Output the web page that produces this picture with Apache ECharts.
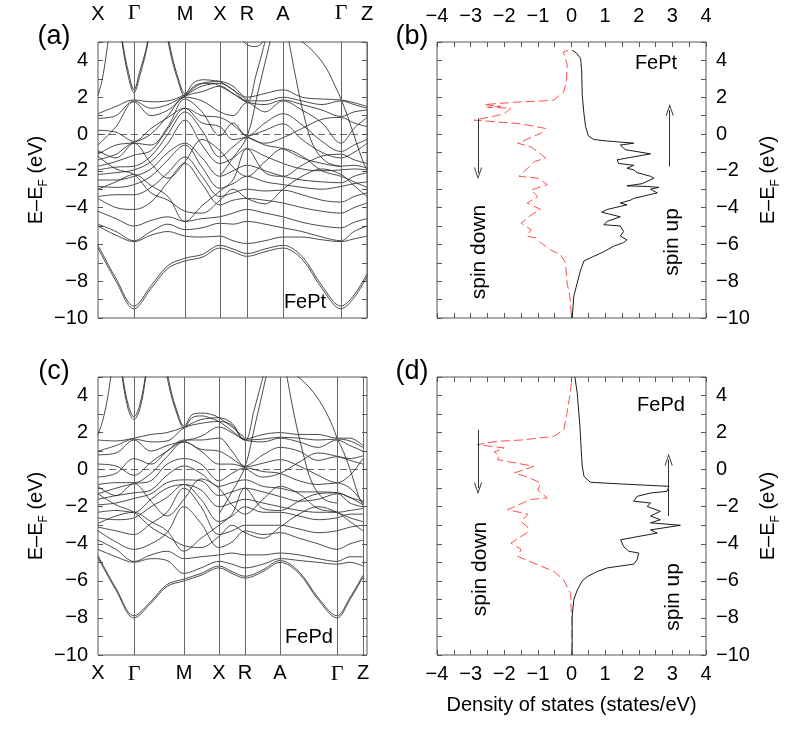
<!DOCTYPE html>
<html>
<head>
<meta charset="utf-8">
<script src="https://cdn.jsdelivr.net/npm/echarts@6/dist/echarts.min.js"></script>
<style>
  html, body { margin: 0; padding: 0; background: #fff; }
  #chart { width: 797px; height: 729px; }
</style>
</head>
<body>
<div id="chart"></div>
<script>
// high-symmetry points along the k-path
var kLabels = ['X', 'Γ', 'M', 'X', 'R', 'A', 'Γ', 'Z'];
var kTicksPt = [0, 36, 87, 122, 149, 185, 243, 269];
var kTicksPd = [0, 36, 86, 121, 147, 182, 239, 265];
// k sample points for the d-band manifold
var kGridPt = [0, 18, 36, 53, 70, 87, 104, 122, 135, 149, 167, 185, 204, 224, 243, 256, 269];
var kGridPd = [0, 18, 36, 53, 69, 86, 103, 121, 134, 147, 165, 182, 201, 220, 239, 252, 265];

// FePt bands, energies (eV) on kGridPt
var bandsPt = [
  [-6.2, -8.0, -9.5, -8.4, -7.3, -6.9, -6.7, -6.2, -6.4, -6.65, -6.4, -6.2, -6.8, -8.4, -9.5, -8.9, -7.75],
  [-6.05, -7.85, -9.35, -8.25, -7.15, -6.75, -6.55, -6.05, -6.25, -6.5, -6.25, -6.05, -6.65, -8.25, -9.35, -8.75, -7.6],
  [-5.0, -5.5, -5.85, -5.5, -5.3, -5.55, -5.6, -5.55, -5.8, -5.95, -5.8, -5.6, -5.6, -5.75, -5.85, -5.7, -5.55],
  [-4.9, -5.3, -5.8, -5.3, -4.9, -5.2, -5.1, -4.85, -4.9, -4.75, -4.9, -5.1, -5.3, -5.6, -5.8, -5.3, -5.0],
  [-4.2, -4.6, -5.0, -4.7, -4.5, -4.75, -4.6, -4.5, -4.3, -4.1, -4.3, -4.5, -4.8, -5.0, -5.1, -4.8, -4.6],
  [-3.5, -4.0, -4.1, -3.7, -2.6, -1.6, -2.7, -3.85, -3.6, -3.5, -3.6, -3.75, -4.0, -4.2, -4.3, -4.0, -3.75],
  [-3.4, -3.3, -3.3, -2.9, -2.1, -1.25, -2.3, -3.4, -3.2, -3.0, -3.1, -3.05, -3.3, -3.6, -3.7, -3.4, -3.2],
  [-2.85, -2.9, -2.75, -2.3, -1.4, -0.6, -1.8, -2.95, -2.7, -2.3, -2.6, -2.75, -2.9, -3.0, -2.85, -2.7, -2.6],
  [-2.5, -2.5, -2.3, -1.9, -1.0, -0.5, -1.3, -2.3, -2.0, -1.7, -2.0, -2.3, -2.5, -2.6, -2.65, -2.3, -2.1],
  [-2.2, -2.1, -1.95, -1.5, -0.5, 0.75, -0.6, -1.6, -1.3, -0.8, -1.2, -1.6, -1.9, -2.0, -1.95, -1.9, -1.95],
  [-1.95, -1.8, -1.75, -1.2, 0.0, 1.2, 0.2, -1.25, -0.7, -0.2, -0.6, -0.8, -1.3, -1.6, -1.75, -1.7, -1.85],
  [-1.75, -1.5, -1.15, -0.9, 0.3, 1.4, 0.6, 0.4, -0.3, -0.15, 0.2, 0.55, -0.3, -1.0, -1.3, -1.0, -0.5],
  [-1.4, -1.1, -0.5, -0.6, 0.4, 1.9, 1.2, -0.1, 0.6, -0.1, 0.6, 1.1, 0.5, -0.4, -0.95, -0.6, -0.3],
  [-1.1, -0.6, -0.45, 0.0, 1.0, 2.0, 1.8, 1.2, 1.0, 1.7, 1.2, 1.8, 1.3, 0.6, -0.5, 0.3, 0.9],
  [-0.6, 0.4, 1.75, 1.0, 1.3, 2.05, 2.3, 2.6, 2.2, 1.75, 1.6, 1.85, 1.6, 1.3, 0.95, 1.2, 1.3],
  [0.85, 1.0, 1.8, 1.4, 1.6, 2.1, 2.6, 2.75, 2.4, 1.8, 1.8, 2.0, 1.8, 1.6, 1.8, 1.6, 1.4],
  [1.1, 1.5, 1.85, 1.75, 1.8, 2.15, 2.75, 2.85, 2.6, 2.0, 2.2, 2.4, 2.0, 1.9, 1.85, 1.7, 1.5],
  [-0.9, -1.3, -0.5, -1.6, -2.4, -1.5, -0.3, -0.9, -1.8, -2.3, -1.5, -0.8, -1.2, -2.0, -2.3, -2.6, -2.9],
  [-3.0, -2.6, -2.2, -2.8, -3.4, -4.75, -3.9, -3.1, -2.5, -0.8, -2.1, -2.3, -1.7, -1.2, -1.1, -1.4, -1.6],
  [-1.2, -1.9, -2.2, -3.2, -3.6, -4.2, -4.3, -3.6, -3.0, -3.5, -3.8, -3.0, -2.3, -1.9, -2.2, -2.8, -3.4],
  [0.2, 0.1, -0.4, 0.3, 0.9, 1.4, 1.0, 0.9, 0.5, -0.15, -0.5, -0.2, 0.3, 0.8, 0.9, 0.6, 0.4]
];
// FePt bands that run off the window, [k, E] points
var extraPt = [
  [[14, 9], [24, 5.0], [30, 3.2], [36, 2.25], [42, 3.2], [50, 5.0], [58, 8.5]],
  [[14.5, 9], [24.5, 5.0], [30.5, 3.35], [36, 2.4], [41.5, 3.35], [49.5, 5.0], [57.5, 8.5]],
  [[0, 2.1], [4, 2.9], [8, 4.2], [11, 5.5]],
  [[64, 7], [72, 4.5], [80, 2.9], [87, 2.05], [95, 2.55], [104, 2.75], [115, 2.75], [122, 2.6], [135, 2.2], [149, 1.75], [158, 3.2], [165, 4.6], [172, 6]],
  [[65, 7], [73, 4.5], [81, 2.9], [87, 2.2], [96, 2.8], [106, 2.95], [116, 2.9], [122, 2.85], [135, 2.4], [149, 1.85]],
  [[122, -2.3], [135, -1.3], [149, -0.15], [160, 2.3], [172, 5.0], [178, 6.5]],
  [[140, 5.4], [149, 4.85], [158, 4.75], [168, 5.2]],
  [[190, 5.3], [198, 3.0], [206, 1.0], [215, -0.6], [228, -1.5], [243, -1.77]],
  [[200, 5.2], [215, 4.5], [228, 3.6], [238, 2.5], [243, 1.9], [250, 0.9], [258, -0.4], [265, -1.5], [269, -1.95]]
];

// FePd bands, energies (eV) on kGridPd
var bandsPd = [
  [-4.75, -6.5, -8.0, -7.2, -6.3, -6.0, -5.7, -5.3, -5.6, -5.85, -5.5, -5.0, -5.6, -7.0, -8.0, -7.0, -5.8],
  [-4.65, -6.4, -7.88, -7.1, -6.2, -5.9, -5.6, -5.2, -5.5, -5.75, -5.4, -4.9, -5.5, -6.9, -7.88, -6.9, -5.7],
  [-4.3, -4.7, -5.0, -4.8, -4.9, -5.6, -5.3, -4.95, -5.1, -5.3, -5.1, -4.8, -4.9, -5.0, -5.1, -5.0, -5.2],
  [-3.8, -4.3, -4.95, -4.6, -4.4, -4.8, -4.7, -4.6, -4.5, -4.6, -4.6, -4.5, -4.6, -4.8, -4.95, -4.7, -4.7],
  [-3.3, -3.9, -4.3, -4.0, -3.4, -2.0, -2.9, -4.2, -3.9, -3.3, -3.5, -3.4, -3.7, -4.0, -4.3, -4.0, -3.8],
  [-3.1, -3.3, -3.5, -2.9, -2.3, -1.0, -2.0, -3.5, -3.3, -3.0, -3.0, -3.0, -3.2, -3.4, -3.3, -3.1, -3.0],
  [-2.6, -2.7, -2.6, -2.0, -1.5, -0.8, -1.6, -2.8, -2.5, -2.0, -2.3, -2.3, -2.5, -2.7, -2.6, -2.4, -2.4],
  [-2.3, -2.2, -2.3, -1.6, -1.0, -0.8, -1.1, -2.0, -1.8, -1.6, -1.8, -2.0, -2.2, -2.3, -2.3, -2.2, -2.1],
  [-1.9, -1.8, -1.55, -1.3, -0.7, -0.55, -0.6, -1.4, -1.2, -1.0, -1.2, -1.45, -1.7, -1.6, -1.3, -1.8, -2.0],
  [-1.6, -1.4, -1.25, -1.1, -0.3, 0.2, -0.2, -0.9, -0.7, -0.55, -0.9, -1.0, -1.2, -1.2, -1.25, -1.5, -1.9],
  [-1.3, -1.0, -0.75, -0.6, 0.3, 0.6, 0.3, -0.6, -0.2, 0.1, -0.1, -0.2, -0.6, -0.8, -0.72, -1.0, -1.8],
  [-0.8, -0.7, -0.7, -0.2, 0.7, 1.5, 1.0, 0.3, 0.3, 0.15, 0.35, 0.54, 0.2, -0.3, -0.7, -0.3, 0.6],
  [-0.4, -0.2, 0.6, 0.3, 1.0, 1.6, 1.6, 1.7, 1.0, 0.2, 0.8, 1.2, 1.0, 0.5, 0.7, 0.6, 0.75],
  [0.8, 0.9, 1.6, 1.0, 1.3, 1.55, 1.8, 2.3, 2.0, 1.6, 1.5, 1.7, 1.5, 1.2, 1.6, 1.3, 1.0],
  [1.0, 1.3, 1.65, 1.5, 1.55, 2.25, 2.5, 2.6, 2.4, 1.6, 1.65, 1.75, 1.7, 1.6, 1.65, 1.55, 1.2],
  [1.6, 1.55, 1.7, 1.9, 2.0, 2.3, 2.7, 2.8, 2.5, 1.65, 1.9, 2.0, 1.9, 1.9, 1.7, 1.7, 1.3],
  [-0.9, -1.4, -0.75, -1.7, -2.5, -1.6, -0.5, -1.0, -1.9, -2.4, -1.6, -0.9, -1.3, -2.1, -2.3, -2.6, -2.8],
  [-2.9, -2.5, -2.3, -2.8, -3.3, -4.4, -3.7, -3.0, -2.4, -1.0, -2.1, -2.2, -1.7, -1.3, -1.25, -1.5, -1.7],
  [-1.3, -1.9, -2.3, -3.1, -3.6, -4.1, -4.2, -3.6, -3.0, -3.4, -3.7, -3.1, -2.4, -2.0, -2.3, -2.8, -3.3],
  [0.3, 0.2, -0.3, 0.4, 1.0, 1.5, 1.1, 1.0, 0.6, 0.1, -0.4, -0.2, 0.4, 0.9, 0.72, 0.5, 0.3]
];
var extraPd = [
  [[15, 9], [24, 5.1], [30, 3.3], [36, 2.7], [42, 3.3], [48, 5.1], [56, 8.5]],
  [[15.5, 9], [24.5, 5.1], [30.5, 3.45], [36, 2.85], [41.5, 3.45], [47.5, 5.1], [55.5, 8.5]],
  [[0, 1.9], [5, 2.7], [10, 4.0], [14, 5.5]],
  [[63, 7], [71, 4.5], [79, 3.0], [86, 2.25], [94, 2.8], [104, 2.9], [114, 2.75], [121, 2.6], [134, 2.1], [147, 1.6], [156, 3.2], [163, 4.6], [170, 6]],
  [[64, 7], [72, 4.5], [80, 3.0], [86, 2.35], [95, 3.0], [105, 3.05], [115, 2.95], [121, 2.8], [134, 2.3], [147, 1.7]],
  [[121, -2.4], [134, -1.2], [147, 0.15], [157, 2.4], [168, 5.0], [174, 6.5]],
  [[188, 5.3], [196, 3.0], [205, 0.9], [214, -0.7], [226, -1.6], [239, -1.8]],
  [[196, 5.2], [212, 4.4], [225, 3.4], [235, 2.3], [239, 1.7], [246, 0.9], [254, -0.3], [261, -1.5], [265, -1.9]]
];

// density of states, [states/eV, E - EF]
var dosPtUp = [[0.02, 4.55], [0.15, 4.4], [0.27, 4.1], [0.3, 3.5], [0.32, 2.1], [0.37, 1.1], [0.42, 0.4], [0.5, -0.1], [0.66, -0.3], [1.06, -0.38], [1.85, -0.5], [1.45, -0.6], [1.6, -0.85], [2.35, -1.08], [1.36, -1.4], [1.4, -1.6], [1.85, -1.7], [1.65, -1.86], [1.85, -1.95], [1.95, -2.1], [2.35, -2.3], [2.45, -2.4], [2.1, -2.7], [1.65, -2.82], [2.25, -2.85], [2.6, -2.9], [2.35, -3.0], [2.55, -3.2], [1.85, -3.5], [1.75, -3.6], [1.45, -3.75], [1.65, -3.85], [1.06, -4.1], [0.9, -4.25], [1.45, -4.5], [1.06, -4.75], [0.96, -4.93], [1.45, -5.0], [1.55, -5.3], [1.45, -5.55], [1.65, -5.75], [1.55, -5.9], [1.25, -6.1], [0.96, -6.4], [0.66, -6.65], [0.37, -6.9], [0.27, -7.4], [0.17, -8.1], [0.07, -8.8], [0.02, -10]];
var dosPtDown = [[-0.1, 4.55], [-0.25, 4.45], [-0.2, 4.2], [-0.13, 3.8], [-0.15, 2.9], [-0.23, 2.3], [-0.52, 1.85], [-0.82, 1.8], [-1.5, 1.75], [-2.6, 1.6], [-2.1, 1.5], [-2.5, 1.45], [-1.8, 1.4], [-2.0, 1.1], [-2.35, 0.95], [-2.9, 0.75], [-2.5, 0.7], [-1.5, 0.55], [-0.77, 0.3], [-0.9, 0.05], [-1.6, -0.5], [-1.2, -0.7], [-0.77, -1.3], [-1.1, -1.5], [-1.56, -2.3], [-1.0, -2.4], [-0.72, -2.75], [-1.2, -3.05], [-1.0, -3.4], [-1.32, -3.75], [-0.92, -4.1], [-1.2, -4.4], [-1.5, -4.85], [-1.2, -5.2], [-1.32, -5.55], [-1.07, -5.65], [-0.92, -5.9], [-0.62, -6.3], [-0.33, -6.55], [-0.18, -7.0], [-0.13, -8.1], [-0.05, -8.8], [0, -10]];
var dosPdUp = [[0.1, 5.0], [0.17, 4.15], [0.25, 2.35], [0.3, 0.72], [0.32, 0.2], [0.37, -0.36], [0.56, -0.68], [1.46, -0.77], [2.9, -0.9], [2.84, -1.17], [2.35, -1.26], [1.95, -1.44], [1.85, -1.7], [2.35, -1.8], [2.25, -1.98], [2.64, -2.25], [2.35, -2.5], [2.64, -2.7], [2.35, -2.87], [3.24, -3.0], [2.35, -3.25], [2.55, -3.42], [1.46, -3.78], [1.55, -4.15], [1.7, -4.4], [2.0, -4.5], [1.95, -4.86], [1.85, -5.1], [1.06, -5.3], [0.76, -5.5], [0.47, -5.77], [0.32, -6.0], [0.17, -6.5], [0.07, -7.0], [0.02, -7.9], [0.02, -10]];
var dosPdDown = [[0.0, 4.7], [-0.05, 4.0], [-0.13, 3.1], [-0.23, 2.15], [-0.52, 1.8], [-1.5, 1.6], [-2.2, 1.53], [-2.8, 1.35], [-2.0, 1.17], [-2.3, 0.95], [-2.15, 0.75], [-2.2, 0.54], [-1.12, 0.18], [-1.7, -0.18], [-1.3, -0.4], [-0.92, -0.72], [-1.0, -1.1], [-0.72, -1.53], [-1.2, -1.6], [-1.9, -2.16], [-1.3, -2.4], [-1.5, -2.8], [-1.3, -3.1], [-1.32, -3.4], [-1.8, -3.96], [-1.5, -4.3], [-1.6, -4.68], [-1.12, -5.04], [-0.52, -5.5], [-0.23, -5.95], [-0.03, -6.67], [0.0, -7.9], [0.0, -10]];

// spin arrows: [dos, E from, E to]
var arrowsPt = [[-2.78, 0.85, -2.13], [2.92, -1.77, 1.3]];
var arrowsPd = [[-2.78, 2.16, -1.0], [2.89, -2.5, 0.54]];

var FONT = 'Liberation Sans, Arial, sans-serif';
var nameE = '{t|E–E}{s|F}{t| (eV)}';
var nameRich = {
  t: { fontSize: 20, fontFamily: FONT, color: '#000' },
  s: { fontSize: 12, fontFamily: FONT, color: '#000', verticalAlign: 'bottom', padding: [0, 0, -4, 0] }
};

function minus(v) {
  return String(v).replace('-', '\u2212');
}

function kAxis(grid, ticks, pos) {
  return {
    type: 'value', gridIndex: grid, position: pos, min: 0, max: 269,
    axisLine: { show: false, onZero: false }, axisTick: { show: false }, splitLine: { show: false },
    axisLabel: {
      customValues: ticks, margin: pos === 'top' ? 18 : 8, fontSize: 20, fontFamily: FONT, color: '#000',
      formatter: function (v) {
        var s = kLabels[ticks.indexOf(v)];
        return s === 'Γ' ? '{g|Γ}' : s;
      },
      rich: { g: { fontFamily: 'Liberation Serif, serif', fontSize: 22, color: '#000' } }
    }
  };
}

function dosAxis(grid, pos, labels) {
  return {
    type: 'value', gridIndex: grid, position: pos, min: -4, max: 4, interval: 0.5,
    axisLine: { show: false, onZero: false }, splitLine: { show: false },
    axisTick: { show: true, inside: true, length: 5, lineStyle: { color: '#555' } },
    axisLabel: {
      show: labels, margin: pos === 'top' ? 16 : 9, fontSize: 20, fontFamily: FONT, color: '#000',
      formatter: function (v) { return v % 1 === 0 ? minus(v) : ''; }
    },
    name: (labels && pos === 'bottom') ? 'Density of states (states/eV)' : '',
    nameLocation: 'middle', nameGap: 40,
    nameTextStyle: { fontSize: 20, fontFamily: FONT, color: '#000' }
  };
}

function eAxis(grid, pos, labels) {
  return {
    type: 'value', gridIndex: grid, position: pos, min: -10, max: 5, interval: 1,
    axisLine: { show: false, onZero: false }, splitLine: { show: false },
    axisTick: { show: true, inside: true, length: 5, lineStyle: { color: '#555' } },
    axisLabel: {
      show: labels, margin: 10, fontSize: 20, fontFamily: FONT, color: '#000',
      formatter: function (v) { return v % 2 === 0 ? minus(v) : ''; }
    },
    name: labels ? nameE : '', nameLocation: 'middle', nameRotate: 90,
    nameGap: pos === 'left' ? 48 : 52,
    nameTextStyle: { rich: nameRich }
  };
}

var grids = [
  { left: 98, top: 42, width: 269, height: 276 },
  { left: 437, top: 42, width: 269, height: 276 },
  { left: 98, top: 377, width: 269, height: 278 },
  { left: 437, top: 377, width: 269, height: 278 }
].map(function (g) {
  return Object.assign({ show: true, borderColor: '#555', borderWidth: 1, backgroundColor: 'transparent' }, g);
});

var xAxes = [
  kAxis(0, kTicksPt, 'top'),
  dosAxis(1, 'top', true),
  dosAxis(1, 'bottom', false),
  kAxis(2, kTicksPd, 'bottom'),
  dosAxis(3, 'top', false),
  dosAxis(3, 'bottom', true)
];
var yAxes = [
  eAxis(0, 'left', true), eAxis(0, 'right', false),
  eAxis(1, 'left', false), eAxis(1, 'right', true),
  eAxis(2, 'left', true), eAxis(2, 'right', false),
  eAxis(3, 'left', false), eAxis(3, 'right', true)
];

var series = [];

function bandLine(data, xi, yi) {
  return {
    type: 'line', xAxisIndex: xi, yAxisIndex: yi, data: data,
    showSymbol: false, symbol: 'none', smooth: 0.35, silent: true, animation: false,
    lineStyle: { color: '#2a2a2a', width: 0.85 }
  };
}

function addBands(bands, extra, kGrid, ticks, xi, yi) {
  bands.forEach(function (b) {
    series.push(bandLine(b.map(function (e, i) { return [kGrid[i], e]; }), xi, yi));
  });
  extra.forEach(function (b) {
    series.push(bandLine(b, xi, yi));
  });
  // symmetry lines and the Fermi level
  var ml = ticks.slice(1).map(function (k) {
    return { xAxis: k, lineStyle: { color: '#666', width: 1, type: 'solid' } };
  });
  ml.push({ yAxis: 0, lineStyle: { color: '#444', width: 0.8, type: [7, 4] } });
  series[series.length - 1].markLine = {
    silent: true, symbol: 'none', animation: false, label: { show: false }, data: ml
  };
}

addBands(bandsPt, extraPt, kGridPt, kTicksPt, 0, 0);
addBands(bandsPd, extraPd, kGridPd, kTicksPd, 3, 4);

var arrowHead = 'path://M5,0 L10,11 L9,11.5 L5,2.6 L1,11.5 L0,11 Z';

function addDos(up, down, arrows, xi, yi) {
  series.push({
    type: 'line', xAxisIndex: xi, yAxisIndex: yi, data: up,
    showSymbol: false, symbol: 'none', silent: true, animation: false,
    lineStyle: { color: '#000', width: 0.9 },
    markLine: {
      silent: true, animation: false, symbol: ['none', arrowHead], symbolSize: [8, 12],
      label: { show: false }, lineStyle: { color: '#333', width: 1, type: 'solid' },
      data: arrows.map(function (a) { return [{ coord: [a[0], a[1]] }, { coord: [a[0], a[2]] }]; })
    }
  });
  series.push({
    type: 'line', xAxisIndex: xi, yAxisIndex: yi, data: down,
    showSymbol: false, symbol: 'none', silent: true, animation: false,
    lineStyle: { color: '#ff3b3b', width: 0.9, type: [9, 4] }
  });
}

addDos(dosPtUp, dosPtDown, arrowsPt, 1, 3);
addDos(dosPdUp, dosPdDown, arrowsPd, 5, 7);

function txt(x, y, s, size, rot) {
  return {
    type: 'text', x: x, y: y, rotation: rot || 0, silent: true,
    style: { text: s, fontSize: size, fontFamily: FONT, fill: '#000', align: 'center', verticalAlign: 'middle' }
  };
}

var graphic = [
  txt(54, 37, '(a)', 27), txt(412, 37, '(b)', 27),
  txt(54, 372, '(c)', 27), txt(412, 372, '(d)', 27),
  txt(305, 302, 'FePt', 20), txt(656, 63, 'FePt', 20),
  txt(309, 637, 'FePd', 20), txt(661, 405, 'FePd', 20),
  txt(479, 252, 'spin down', 21, Math.PI / 2), txt(672, 242, 'spin up', 21, Math.PI / 2),
  txt(480, 569, 'spin down', 21, Math.PI / 2), txt(673, 597, 'spin up', 21, Math.PI / 2)
];

var chart = echarts.init(document.getElementById('chart'), null, { renderer: 'canvas' });
chart.setOption({
  animation: false,
  backgroundColor: '#fff',
  grid: grids,
  xAxis: xAxes,
  yAxis: yAxes,
  series: series,
  graphic: graphic
});
</script>
</body>
</html>
